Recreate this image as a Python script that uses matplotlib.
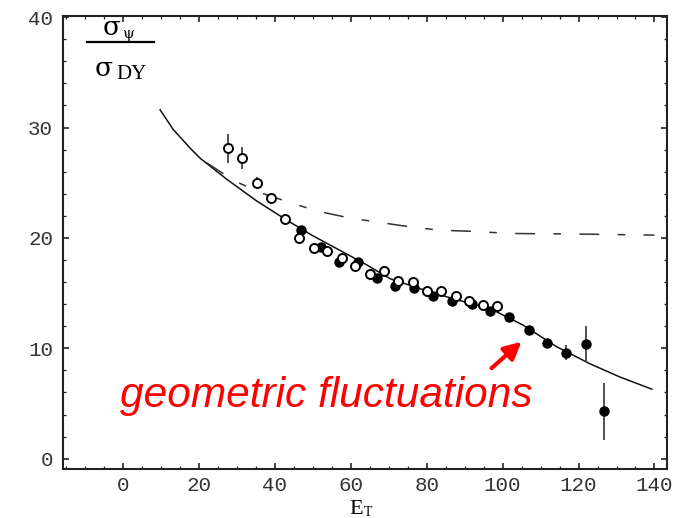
import matplotlib.pyplot as plt
from matplotlib.lines import Line2D
from matplotlib.ticker import MultipleLocator

# open circles (low E_T data set)
open_x = [27.8, 31.5, 35.3, 39.0, 42.7, 46.4, 50.2, 53.7, 57.7, 61.2,
          65.1, 68.8, 72.4, 76.3, 80.0, 83.7, 87.7, 91.1, 94.9, 98.6]
open_y = [28.1, 27.2, 25.0, 23.6, 21.7, 20.0, 19.1, 18.8, 18.2, 17.5,
          16.7, 17.0, 16.1, 16.0, 15.2, 15.2, 14.7, 14.3, 13.9, 13.8]
open_err = [1.3, 1.0, 0.5, 0.5, 0.2, 0, 0, 0, 0, 0,
            0, 0, 0, 0, 0, 0, 0, 0, 0, 0]

# filled circles
full_x = [46.9, 52.1, 57.0, 62.0, 67.0, 71.7, 76.7, 81.8, 86.6, 91.9,
          96.7, 101.8, 107.0, 111.8, 116.8, 121.9, 126.8]
full_y = [20.7, 19.2, 17.85, 17.85, 16.35, 15.65, 15.5, 14.7, 14.3, 14.0,
          13.4, 12.8, 11.7, 10.5, 9.6, 10.4, 4.3]
full_err = [0.4, 0, 0, 0, 0, 0, 0, 0, 0, 0,
            0, 0, 0, 0, 0.7, 1.6, 2.6]

# solid curve (geometric fluctuations)
curve_x = [9.8, 13.3, 17.8, 20.4, 27.4, 35.0, 43.2, 50.0, 57.0, 64.0,
           70.4, 79.1, 87.9, 96.7, 105.4, 114.2, 123.0, 130.9, 139.3]
curve_y = [31.6, 29.8, 28.1, 27.2, 25.3, 23.4, 21.6, 20.2, 18.9, 17.6,
           16.3, 15.3, 14.4, 13.6, 12.1, 10.15, 8.6, 7.4, 6.3]

# dash-dot curve
dd_x = [22.1, 26.1, 30.4, 37.0, 44.0, 51.5, 59.8, 67.7, 75.6, 83.3,
        91.4, 102.5, 120.0, 140.0]
dd_y = [26.8, 25.9, 25.0, 24.0, 23.2, 22.4, 21.8, 21.4, 21.0, 20.7,
        20.6, 20.4, 20.35, 20.25]

xticks = [0, 20, 40, 60, 80, 100, 120, 140]
yticks = [0, 10, 20, 30, 40]

W, H = 678, 518
fig = plt.figure(figsize=(W / 100, H / 100), dpi=100)
ax = fig.add_axes([62.9 / W, 1 - 469.3 / H, (667 - 62.9) / W, (469.3 - 16) / H])

ax.plot(curve_x, curve_y, color="#111111", lw=1.1, zorder=2)
ax.plot(dd_x, dd_y, color="#333333", lw=1.1, dashes=(13, 12, 5, 12), zorder=2)

ax.errorbar(open_x, open_y, yerr=open_err, fmt="none", ecolor="#444444",
            elinewidth=1.3, zorder=3)
ax.errorbar(full_x, full_y, yerr=full_err, fmt="none", ecolor="#444444",
            elinewidth=1.3, zorder=3)
ax.plot(full_x, full_y, "o", color="black", ms=6.5, zorder=4)
ax.plot(open_x, open_y, "o", mfc="white", mec="black", mew=1.4, ms=6.5,
        zorder=5)

ax.set_xlim(-15.8, 143.3)
ax.set_ylim(-0.96, 40.1)
ax.set_xticks(xticks)
ax.set_yticks(yticks)
ax.xaxis.set_minor_locator(MultipleLocator(5))
ax.yaxis.set_minor_locator(MultipleLocator(2))

ax.tick_params(which="both", direction="in", top=True, right=True,
               colors="#222222", labelcolor="#333333")
ax.tick_params(which="major", length=4, width=1.2)
ax.tick_params(which="minor", length=2.5, width=0.9)
ax.tick_params(axis="x", pad=5)
ax.tick_params(axis="y", pad=7)
for lab in ax.get_xticklabels() + ax.get_yticklabels():
    lab.set_family("Liberation Mono")
    lab.set_fontsize(15)
for sp in ax.spines.values():
    sp.set_linewidth(1.5)
    sp.set_color("#222222")

# y label as a fraction
serif = "DejaVu Serif"
fig.text(112 / W, 1 - 35 / H, "σ", family=serif, size=19, ha="center",
         va="baseline")
fig.text(128 / W, 1 - 38 / H, "ψ", family=serif, size=11, ha="center",
         va="baseline")
fig.add_artist(Line2D([87 / W, 154 / W], [1 - 41.7 / H, 1 - 41.7 / H],
                      transform=fig.transFigure, color="black", lw=1.6))
fig.text(104 / W, 1 - 76 / H, "σ", family=serif, size=19, ha="center",
         va="baseline")
fig.text(116 / W, 1 - 79 / H, "DY", family="Liberation Serif", size=15,
         ha="left", va="baseline")

# x label
fig.text(356 / W, 1 - 514 / H, "E", family="Liberation Serif", size=16,
         ha="center", va="baseline")
fig.text(364 / W, 1 - 516 / H, "T", family="Liberation Serif", size=10,
         ha="left", va="baseline")

ax.text(-0.7, 4.7, "geometric fluctuations", color="red", fontsize=30.5,
        style="italic", family="Liberation Sans", ha="left", va="baseline")
ax.annotate("", xy=(105.0, 10.6), xytext=(97.1, 8.2),
            arrowprops=dict(arrowstyle="-|>", color="red", lw=3,
                            mutation_scale=26, shrinkA=0, shrinkB=0))

fig.savefig("out.png", dpi=100)
